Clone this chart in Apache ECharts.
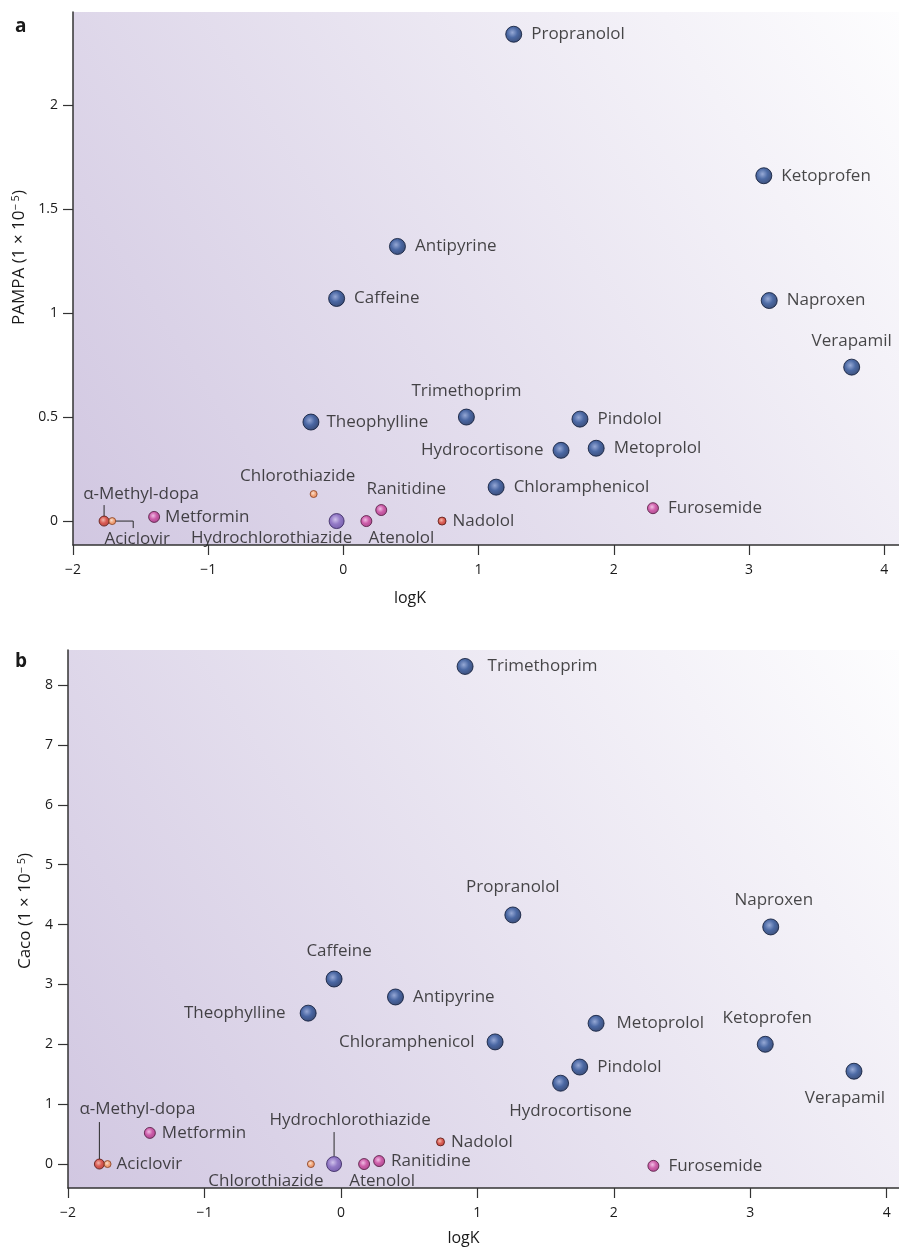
<!DOCTYPE html>
<html>
<head>
<meta charset="utf-8">
<script src="https://cdn.jsdelivr.net/npm/echarts@6/dist/echarts.min.js"></script>
<style>
html, body { margin: 0; padding: 0; background: #fff; }
#main { width: 899px; height: 1247px; }
</style>
</head>
<body>
<div id="main"></div>
<script>
// compounds and their values
var drugs = ['Propranolol', 'Ketoprofen', 'Antipyrine', 'Caffeine', 'Naproxen', 'Verapamil',
    'Trimethoprim', 'Theophylline', 'Pindolol', 'Hydrocortisone', 'Metoprolol', 'Chloramphenicol',
    'Chlorothiazide', 'Ranitidine', 'Furosemide', 'α-Methyl-dopa', 'Aciclovir', 'Metformin',
    'Hydrochlorothiazide', 'Atenolol', 'Nadolol'];
var drugClass = ['blue', 'blue', 'blue', 'blue', 'blue', 'blue',
    'blue', 'blue', 'blue', 'blue', 'blue', 'blue',
    'orange', 'magenta', 'magenta', 'red', 'orange', 'magenta',
    'purple', 'magenta', 'redSmall'];
var logK = [1.26, 3.11, 0.40, -0.05, 3.15, 3.76,
    0.91, -0.24, 1.75, 1.61, 1.87, 1.13,
    -0.22, 0.28, 2.29, -1.77, -1.71, -1.40,
    -0.05, 0.17, 0.73];
var pampa = [2.34, 1.66, 1.32, 1.07, 1.06, 0.74,
    0.50, 0.476, 0.49, 0.34, 0.35, 0.163,
    0.13, 0.053, 0.062, 0, 0, 0.02,
    0, 0, 0];
var caco = [4.16, 2.00, 2.79, 3.09, 3.96, 1.55,
    8.31, 2.52, 1.62, 1.35, 2.35, 2.04,
    0, 0.05, -0.03, 0, 0, 0.52,
    0, 0, 0.37];
var xTicks = [-2, -1, 0, 1, 2, 3, 4];
var pampaTicks = [0, 0.5, 1, 1.5, 2];
var cacoTicks = [0, 1, 2, 3, 4, 5, 6, 7, 8];

var classStyle = {
    blue:     { size: 16, stops: ['#8199ce', '#244a91', '#11295c'], border: '#0a1733' },
    purple:   { size: 15, stops: ['#cdbdec', '#8163be', '#60449e'], border: '#34235c' },
    magenta:  { size: 11, stops: ['#f4b6e2', '#c9409a', '#a02878'], border: '#52163e' },
    red:      { size: 10, stops: ['#f9b09c', '#da4030', '#b5271c'], border: '#561610' },
    redSmall: { size: 8,  stops: ['#f9b09c', '#da4030', '#b5271c'], border: '#561610' },
    orange:   { size: 7,  stops: ['#ffe4cc', '#f79c62', '#ee7c40'], border: '#843f20' }
};

// label placement: [position, dx, dy]
var placeA = {
    'Verapamil': ['top', 0, 0],
    'Trimethoprim': ['top', 0, 0],
    'Hydrocortisone': ['left', 0, 0],
    'Chlorothiazide': ['top', -16, 4],
    'Ranitidine': ['top', 25, 3],
    'α-Methyl-dopa': ['top', 37, -4],
    'Aciclovir': ['bottom', 25, -3],
    'Hydrochlorothiazide': ['bottom', -65, -8],
    'Atenolol': ['bottom', 35, -6],
    'Metformin': ['right', -4, 0],
    'Nadolol': ['right', -3, 0],
    'Theophylline': ['right', -2, 0]
};
var placeB = {
    'Propranolol': ['top', 0, -2],
    'Naproxen': ['top', 3, -1],
    'Caffeine': ['top', 5, -2],
    'Ketoprofen': ['top', 2, 0],
    'Theophylline': ['left', -5, 0],
    'Chloramphenicol': ['left', -3, 0],
    'Hydrocortisone': ['bottom', 10, 2],
    'Verapamil': ['bottom', -9, 1],
    'Trimethoprim': ['right', 5, 0],
    'Metoprolol': ['right', 3, 0],
    'α-Methyl-dopa': ['top', 38, -32],
    'Aciclovir': ['right', -4, 0],
    'Chlorothiazide': ['bottom', -45, -4],
    'Hydrochlorothiazide': ['top', 16, -18],
    'Atenolol': ['bottom', 18, -6],
    'Ranitidine': ['right', -3, 0],
    'Nadolol': ['right', -3, 0],
    'Metformin': ['right', -3, 0]
};
// leader lines: pixel offsets from the point
var leadersA = {
    'α-Methyl-dopa': [[0, -5], [0, -16]],
    'Aciclovir': [[3, 0], [21, 0], [21, 7]]
};
var leadersB = {
    'α-Methyl-dopa': [[0, -5], [0, -42]],
    'Hydrochlorothiazide': [[0, -8], [0, -32]]
};

function ball(cls) {
    var s = classStyle[cls];
    return {
        color: {
            type: 'radial', x: 0.42, y: 0.4, r: 0.6,
            colorStops: [
                { offset: 0, color: s.stops[0] },
                { offset: 0.5, color: s.stops[1] },
                { offset: 1, color: s.stops[2] }
            ]
        },
        borderColor: s.border,
        borderWidth: 1
    };
}

function makeData(yVals, place) {
    return drugs.map(function (name, i) {
        var p = place[name] || ['right', 0, 0];
        return {
            name: name,
            value: [logK[i], yVals[i]],
            symbolSize: classStyle[drugClass[i]].size,
            itemStyle: ball(drugClass[i]),
            label: { position: p[0] }
        };
    });
}

function layoutFn(place) {
    return function (params) {
        var p = place[drugs[params.dataIndex]] || ['right', 0, 0];
        return { dx: p[1], dy: p[2] };
    };
}

function leaderSeries(idx, yVals, leaders) {
    var names = Object.keys(leaders);
    return {
        type: 'custom', xAxisIndex: idx, yAxisIndex: idx, silent: true, z: 1,
        data: names.map(function (n) {
            var i = drugs.indexOf(n);
            return { name: n, value: [logK[i], yVals[i]] };
        }),
        renderItem: function (params, api) {
            var c = api.coord([api.value(0), api.value(1)]);
            var offs = leaders[names[params.dataIndex]];
            return {
                type: 'polyline',
                shape: { points: offs.map(function (o) { return [c[0] + o[0], c[1] + o[1]]; }) },
                style: { stroke: '#2a2a2a', lineWidth: 1, fill: null }
            };
        }
    };
}

var axisColor = '#333';
var textColor = '#1a1a1a';
var fontFam = '"Open Sans", "Noto Sans", sans-serif';
var bgGrad = {
    type: 'linear', x: 0, y: 1, x2: 1, y2: 0,
    colorStops: [{ offset: 0, color: '#d1c7e1' }, { offset: 1, color: '#fdfdfe' }]
};

function xAxisDef(idx, shift, gap) {
    return {
        type: 'value', gridIndex: idx, min: -2, max: idx === 0 ? 4.11 : 4.09,
        name: 'logK', nameLocation: 'middle', nameGap: gap,
        nameTextStyle: { color: textColor, fontSize: 16, fontFamily: fontFam, padding: [0, shift, 0, 0] },
        axisLine: { onZero: false, lineStyle: { color: axisColor, width: 1.5 } },
        axisTick: { length: 10, lineStyle: { color: axisColor, width: 1.2 }, customValues: xTicks },
        axisLabel: {
            color: textColor, fontSize: 14, fontFamily: fontFam, margin: 18, customValues: xTicks,
            formatter: function (v) { return String(v).replace('-', '\u2212'); }
        },
        splitLine: { show: false }
    };
}

function yAxisDef(idx, name, min, max, ticks, gap, lift) {
    return {
        type: 'value', gridIndex: idx, min: min, max: max,
        name: name, nameLocation: 'middle', nameGap: gap, nameRotate: 90,
        nameTextStyle: {
            color: textColor, fontSize: 17, fontFamily: fontFam, padding: [0, 0, 0, lift],
            rich: { sup: { fontSize: 11, verticalAlign: 'top', padding: [0, 0, 7, 0], color: textColor, fontFamily: fontFam } }
        },
        axisLine: { show: true, onZero: false, lineStyle: { color: axisColor, width: 1.5 } },
        axisTick: { show: true, length: 10, lineStyle: { color: axisColor, width: 1.2 }, customValues: ticks },
        axisLabel: { color: textColor, fontSize: 14, fontFamily: fontFam, margin: 15, customValues: ticks },
        splitLine: { show: false }
    };
}

var labelStyle = { show: true, formatter: '{b}', color: textColor, fontSize: 17, fontFamily: fontFam, distance: 9 };

var myChart = echarts.init(document.getElementById('main'));
var option = {
    backgroundColor: '#fff',
    animation: false,
    title: [
        { text: 'a', left: 10, top: 12, textStyle: { fontSize: 19, fontWeight: 'bold', color: '#1a1a1a', fontFamily: fontFam } },
        { text: 'b', left: 10, top: 647, textStyle: { fontSize: 19, fontWeight: 'bold', color: '#1a1a1a', fontFamily: fontFam } }
    ],
    grid: [
        { left: 73, top: 12, width: 826, height: 533, show: true, backgroundColor: bgGrad, borderWidth: 0 },
        { left: 68, top: 650, width: 831, height: 538, show: true, backgroundColor: bgGrad, borderWidth: 0 }
    ],
    xAxis: [xAxisDef(0, 152, 45), xAxisDef(1, 40, 42)],
    yAxis: [
        yAxisDef(0, 'PAMPA (1 × 10{sup|\u2212 5})', -0.115, 2.447, pampaTicks, 41, 42),
        yAxisDef(1, 'Caco (1 × 10{sup|\u2212 5})', -0.4, 8.585, cacoTicks, 34, 16)
    ],
    series: [
        leaderSeries(0, pampa, leadersA),
        leaderSeries(1, caco, leadersB),
        {
            type: 'scatter', xAxisIndex: 0, yAxisIndex: 0, z: 2,
            data: makeData(pampa, placeA),
            label: labelStyle,
            labelLayout: layoutFn(placeA)
        },
        {
            type: 'scatter', xAxisIndex: 1, yAxisIndex: 1, z: 2,
            data: makeData(caco, placeB),
            label: labelStyle,
            labelLayout: layoutFn(placeB)
        }
    ]
};
if (option && typeof option === "object") {
    myChart.setOption(option, true);
}
</script>
</body>
</html>
